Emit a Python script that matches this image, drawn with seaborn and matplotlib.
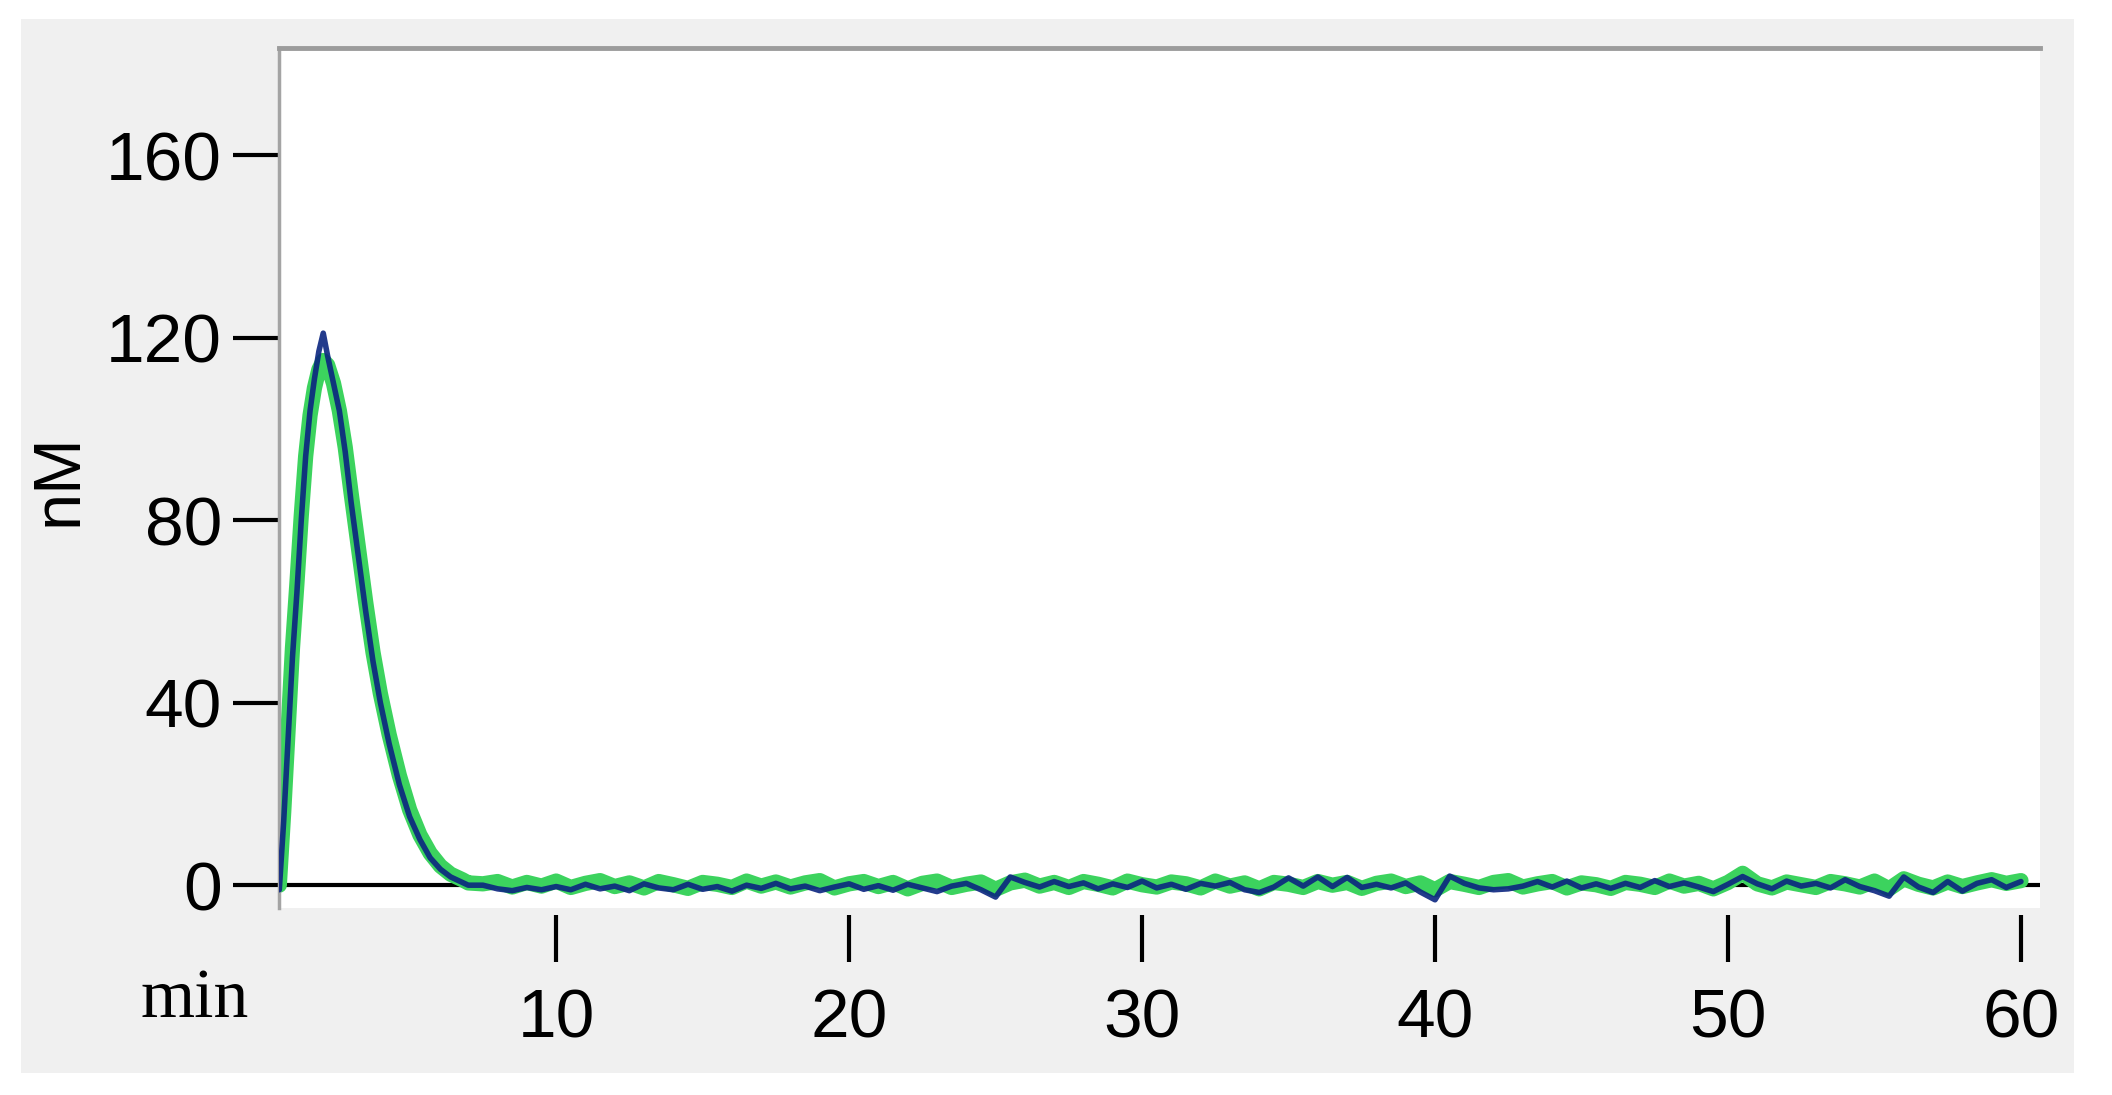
import numpy as np
import matplotlib
matplotlib.use("Agg")
import matplotlib.pyplot as plt
from matplotlib import font_manager
from matplotlib.patches import Rectangle
import seaborn as sns

# peak part of the trace (min), shared by both series
peak_time = [0.55, 0.7, 0.85, 1.0, 1.15, 1.3, 1.45, 1.6, 1.75, 1.9,
             2.05, 2.2, 2.4, 2.6, 2.8, 3.0, 3.25, 3.5, 3.75, 4.0,
             4.3, 4.65, 5.0, 5.35, 5.7, 6.05, 6.4, 6.8, 7.0]
blue_peak = [-1, 14, 32, 50, 64, 80, 94, 104, 111, 117,
             121, 116, 110, 104, 95, 84, 72, 60, 49, 40,
             31, 22, 15, 10, 6, 3.5, 1.8, 0.6, 0]
green_peak = [0, 16, 34, 52, 66, 81, 94, 103, 109, 113,
              115, 114, 110, 104, 96, 86, 74, 62, 51, 42,
              33, 24, 16.5, 11, 7, 4.2, 2.4, 1.2, 0.5]

# baseline part, sampled every 0.5 min from 7.5 min
base_start = 7.5
base_step = 0.5
blue_base = [0.0, -0.8, -1.2, -0.5, -1.0, -0.3, -1.0, 0.2, -0.8, -0.2,
             -1.2, 0.3, -0.6, -1.0, 0.2, -0.9, -0.3, -1.3, 0.0, -0.7,
             0.4, -0.8, -0.2, -1.2, -0.4, 0.3, -0.9, -0.1, -1.1, 0.2,
             -0.6, -1.4, -0.2, 0.4, -1.0, -2.6, 1.8, 0.6, -0.4, 0.8,
             -0.3, 0.5, -0.8, 0.3, -0.5, 0.9, -0.6, 0.2, -0.9, 0.4,
             -0.2, 0.6, -1.0, -1.6, -0.4, 1.6, -0.2, 1.8, -0.3, 1.7,
             -0.5, 0.2, -0.6, 0.5, -1.5, -3.2, 2.0, 0.4, -0.6, -1.0,
             -0.8, -0.2, 0.8, -0.4, 0.9, -0.6, 0.3, -0.7, 0.4, -0.5,
             1.0, -0.3, 0.5, -0.4, -1.4, 0.2, 1.9, 0.3, -0.8, 0.9,
             -0.2, 0.4, -0.6, 1.2, -0.3, -1.2, -2.4, 1.8, -0.4, -1.6,
             0.8, -1.3, 0.4, 1.2, -0.5, 0.8]
green_base = [0.3, 0.8, -0.4, 0.6, -0.2, 0.9, -0.5, 0.4, 1.0, -0.3,
              0.5, -0.6, 0.8, 0.1, -0.7, 0.6, 0.2, -0.5, 0.9, -0.2,
              0.7, -0.4, 0.5, 1.0, -0.6, 0.3, 0.8, -0.3, 0.6, -0.8,
              0.4, 0.9, -0.5, 0.2, 0.7, -0.9, 0.5, 1.1, -0.2, 0.6,
              -0.5, 0.8, 0.2, -0.6, 0.9, 0.1, -0.4, 0.7, 0.3, -0.6,
              0.9, -0.2, 0.5, -0.8, 0.6, 0.2, -0.5, 0.8, 0.0, 0.6,
              -0.7, 0.4, 0.9, -0.3, 0.5, -1.0, 0.8, 0.2, -0.5, 0.6,
              1.0, -0.4, 0.3, 0.8, -0.6, 0.5, 0.1, -0.7, 0.6, 0.2,
              -0.5, 0.9, -0.2, 0.4, -0.8, 0.6, 2.6, 0.3, -0.6, 0.7,
              0.1, -0.5, 0.8, 0.3, -0.4, 0.9, -0.8, 1.4, 0.2, -0.6,
              0.7, -0.3, 0.5, 1.2, 0.4, 1.0]

x_ticks = [10, 20, 30, 40, 50, 60]
x_labels = ["10", "20", "30", "40", "50", "60"]
y_ticks = [0, 40, 80, 120, 160]
y_labels = ["0", "40", "80", "120", "160"]

base_time = base_start + base_step * np.arange(len(blue_base))
time = np.concatenate([peak_time, base_time])
blue = np.concatenate([blue_peak, blue_base])
green = np.concatenate([green_peak, green_base])

sns.set_style("white")
names = {f.name for f in font_manager.fontManager.ttflist}
if "Liberation Sans Narrow" in names:
    tick_family, tick_size = "Liberation Sans Narrow", 57
else:
    tick_family, tick_size = "Liberation Sans", 50
plt.rcParams["font.family"] = ["Liberation Sans", "DejaVu Sans"]
plt.rcParams["text.color"] = "black"

W, H = 2112, 1095
fig = plt.figure(figsize=(W / 100, H / 100), dpi=100)
fig.patch.set_facecolor("white")

# grey window panel behind the plot
fig.patches.append(Rectangle((21 / W, 1 - 1073 / H), (2074 - 21) / W, (1073 - 19) / H,
                             transform=fig.transFigure, facecolor="#f0f0f0",
                             edgecolor="none", zorder=-10))

ax = fig.add_axes([279 / W, 1 - 908 / H, (2040 - 279) / W, (908 - 48) / H])
ax.set_facecolor("white")

ax.axhline(0, color="black", lw=3, zorder=1)
sns.lineplot(x=time, y=green, ax=ax, color="#3cd35e", linewidth=11, zorder=2)
sns.lineplot(x=time, y=blue, ax=ax, color="#0b2580", linewidth=4, alpha=0.9, zorder=3)

ax.set_xlim(0.54, 60.65)
ax.set_ylim(-5, 183.5)

# spines first: moving a spine resets the ticks
for side in ["right", "bottom"]:
    ax.spines[side].set_color("none")
ax.spines["bottom"].set_position(("outward", 5))
ax.spines["top"].set_color("#9c9c9c")
ax.spines["top"].set_linewidth(3.5)
ax.spines["left"].set_color("#a4a4a4")
ax.spines["left"].set_linewidth(2.5)

ax.set_xticks(x_ticks)
ax.set_xticklabels(x_labels, family=tick_family, fontsize=tick_size, color="black")
ax.set_yticks(y_ticks)
ax.set_yticklabels(y_labels, family=tick_family, fontsize=tick_size, color="black")
ax.tick_params(axis="y", left=True, direction="out", length=33, width=3,
               color="black", pad=8)
ax.tick_params(axis="x", bottom=True, direction="out", length=34, width=3,
               color="black", pad=18)
ax.set_xlabel("")
ax.set_ylabel("")

fig.text(60 / W, 1 - 480 / H, "nM", rotation=90, ha="center", va="center",
         fontsize=48, color="black", family=["Liberation Sans", "DejaVu Sans"])
fig.text(195 / W, 1 - 1000 / H, "min", ha="center", va="center",
         fontsize=50, color="black", family=["Liberation Serif", "DejaVu Serif"])

fig.savefig("out.png", dpi=100)
